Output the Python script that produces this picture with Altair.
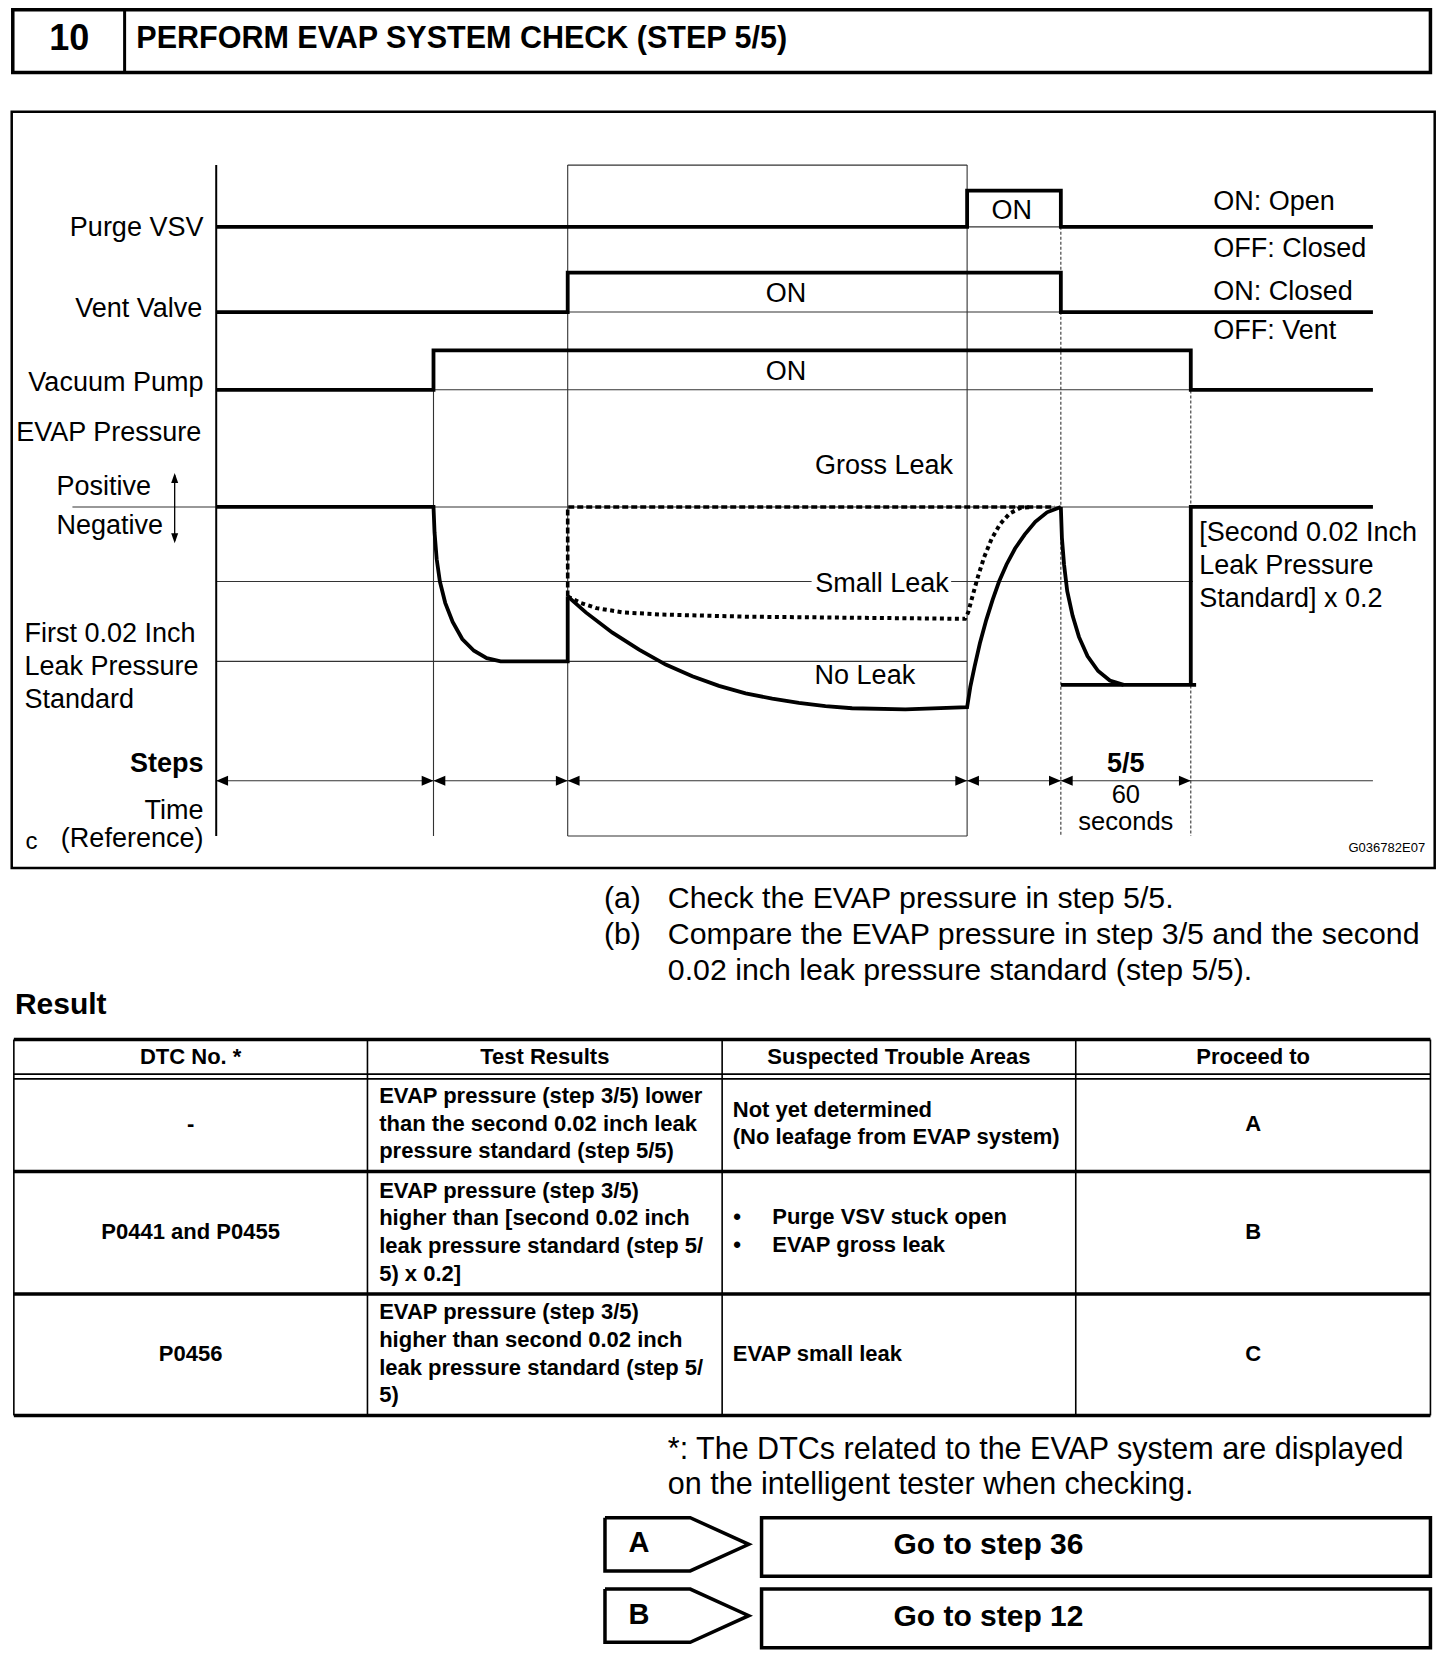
import altair as alt
import pandas as pd

FONT = "Liberation Sans, Arial, Helvetica, sans-serif"
KX = 1456 / 1367
KY = 1670 / 1568
XD = [8 / KX, 1448 / KX]
YD = [8 / KY, 1662 / KY]

# ---------------- timing diagram data (diagram units) ----------------
event_x = [203, 407, 533, 908, 996, 1118, 1289]   # axis, pump on, vent on, purge on, purge off / vent off, pump off, end
signal_names = ["Purge VSV", "Vent Valve", "Vacuum Pump"]
signal_off = [213, 293, 366]
signal_on = [179, 256, 329]
signal_start = [908, 533, 407]
signal_stop = [996, 996, 1118]
signal_on_label_x = [950, 738, 738]

p_zero, p_second, p_first, p_step5 = 476, 546, 621, 643

pump_down_x = [407, 408, 410, 413, 418, 425, 434, 445, 457, 470, 533]
pump_down_y = [476, 500, 525, 546, 566, 584, 600, 611, 618, 621, 621]
no_leak_x = [533, 550, 575, 600, 625, 650, 675, 700, 725, 750, 775, 800, 850, 908]
no_leak_y = [560, 575, 594, 610, 624, 635, 644, 651, 656, 660, 663, 665, 666, 664]
rise_x = [908, 911, 915, 920, 926, 932, 938, 945, 953, 962, 972, 983, 996]
rise_y = [664, 645, 626, 604, 582, 563, 546, 530, 515, 502, 490, 481, 476]
step5_x = [996, 997, 999, 1002, 1007, 1013, 1021, 1031, 1042, 1055]
step5_y = [476, 505, 530, 555, 578, 598, 616, 630, 639, 643]
small_leak_x = [533, 545, 560, 585, 620, 700, 800, 906, 909, 913, 918, 924, 931, 939, 948, 958, 968]
small_leak_y = [560, 566, 571, 575, 577, 579, 580, 581, 575, 560, 542, 523, 506, 492, 482, 477, 476]

step_arrow_y = 733

# ---------------- helpers ----------------
XS = alt.Scale(domain=XD, nice=False, zero=False)
YS = alt.Scale(domain=YD, nice=False, zero=False, reverse=True)


def ex(f="x"):
    return alt.X(f"{f}:Q", scale=XS, axis=None)


def ey(f="y"):
    return alt.Y(f"{f}:Q", scale=YS, axis=None)


def rules(segs, width=1.0, color="black", dash=None):
    df = pd.DataFrame(segs, columns=["x", "y", "x2", "y2"])
    kw = dict(color=color, strokeWidth=width, strokeCap="butt")
    if dash:
        kw["strokeDash"] = dash
    return alt.Chart(df).mark_rule(**kw).encode(x=ex("x"), y=ey("y"), x2="x2:Q", y2="y2:Q")


def poly(paths, width=3.5, color="black", dash=None):
    rows = []
    for pid, (xs, ys) in enumerate(paths):
        for i, (a, b) in enumerate(zip(xs, ys)):
            rows.append({"id": pid, "i": i, "x": a, "y": b})
    kw = dict(color=color, strokeWidth=width, strokeJoin="miter", strokeCap="butt")
    if dash:
        kw["strokeDash"] = dash
    return alt.Chart(pd.DataFrame(rows)).mark_line(**kw).encode(
        x=ex(), y=ey(), order="i:Q", detail="id:N")


def txt(items, size, weight="normal", align="left", color="black"):
    df = pd.DataFrame(items, columns=["x", "y", "t"])
    return alt.Chart(df).mark_text(align=align, baseline="middle", fontSize=size,
                                   fontWeight=weight, font=FONT, color=color).encode(
        x=ex(), y=ey(), text="t:N")


def boxes(items, width=3):
    df = pd.DataFrame(items, columns=["x", "y", "x2", "y2"])
    return alt.Chart(df).mark_rect(fillOpacity=0, stroke="black", strokeWidth=width).encode(
        x=ex("x"), y=ey("y"), x2="x2:Q", y2="y2:Q")


def heads(items, path, size):
    df = pd.DataFrame(items, columns=["x", "y"])
    return alt.Chart(df).mark_point(shape=path, filled=True, size=size, color="black",
                                    opacity=1, strokeWidth=0).encode(x=ex(), y=ey())


layers = []

# ---------------- header ----------------
layers.append(boxes([(12, 9.2, 1343, 68)], width=3.5))
layers.append(rules([(117, 9.2, 117, 68)], width=3))
layers.append(txt([(65, 37, "10")], 36, "bold", "center"))
layers.append(txt([(128, 37, "PERFORM EVAP SYSTEM CHECK (STEP 5/5)")], 30.5, "bold"))

# ---------------- diagram frame ----------------
layers.append(boxes([(11, 105, 1347, 815)], width=2.5))

ax, t_pump, t_vent, t_on, t_off, t_pstop, t_end = event_x
# thin guide lines
thin_h = [
    (t_on, signal_off[0], t_off, signal_off[0]),
    (t_vent, signal_off[1], t_off, signal_off[1]),
    (t_pump, signal_off[2], t_pstop, signal_off[2]),
    (68, p_zero, t_end, p_zero),
    (ax, p_second, 762, p_second),
    (893, p_second, 1120, p_second),
    (ax, p_first, t_on, p_first),
    (ax, step_arrow_y, t_end, step_arrow_y),
    (t_vent, 155, t_on, 155),
    (t_vent, 785, t_on, 785),
]
thin_v = [
    (t_pump, signal_on[2], t_pump, 785),
    (t_vent, 155, t_vent, 785),
    (t_on, 155, t_on, 785),
]
layers.append(rules(thin_h, width=1.1, color="#333"))
layers.append(rules(thin_v, width=1.1, color="#333"))
layers.append(rules([(t_off, signal_off[0], t_off, 785), (t_pstop, signal_on[2], t_pstop, 785)],
                    width=1.1, color="#333", dash=[3, 2]))
layers.append(rules([(ax, 155, ax, 785)], width=2))

# signal traces
sig_paths = []
for lo, hi, s, e in zip(signal_off, signal_on, signal_start, signal_stop):
    sig_paths.append(([ax, s, s, e, e, t_end], [lo, lo, hi, hi, lo, lo]))
layers.append(poly(sig_paths, width=3.8))

# pressure traces
pressure_solid = [
    ([ax] + pump_down_x + [t_vent], [p_zero] + pump_down_y + [no_leak_y[0]]),
    (no_leak_x + rise_x, no_leak_y + rise_y),
    (step5_x, step5_y),
    ([t_off, 1123], [p_step5, p_step5]),
    ([t_pstop, t_pstop, t_end], [p_step5, p_zero, p_zero]),
]
layers.append(poly(pressure_solid, width=3.8))
layers.append(poly([([t_vent, t_vent, 990], [no_leak_y[0], p_zero, p_zero])], width=3.6, dash=[6, 3]))
layers.append(poly([(small_leak_x, small_leak_y)], width=4, dash=[4, 3.5]))

# steps arrows
right_tips = [(x, step_arrow_y) for x in [t_pump, t_vent, t_on, t_off, t_pstop]]
left_tips = [(x, step_arrow_y) for x in [ax, t_pump, t_vent, t_on, t_off]]
layers.append(heads(right_tips, "M 0 0 L -1 -0.42 L -1 0.42 Z", 560))
layers.append(heads(left_tips, "M 0 0 L 1 -0.42 L 1 0.42 Z", 560))

# positive / negative arrow
layers.append(rules([(164, 446, 164, 508)], width=1.3))
layers.append(heads([(164, 444)], "M 0 0 L -0.35 1 L 0.35 1 Z", 400))
layers.append(heads([(164, 510)], "M 0 0 L -0.35 -1 L 0.35 -1 Z", 400))

# diagram labels
layers.append(txt([(191, 214, "Purge VSV"), (190, 290, "Vent Valve"), (191, 360, "Vacuum Pump"),
                   (189, 407, "EVAP Pressure"), (191, 761, "Time"), (191, 788, "(Reference)")],
                  27, align="right"))
layers.append(txt([(53, 457, "Positive"), (53, 494, "Negative"),
                   (23, 595, "First 0.02 Inch"), (23, 626, "Leak Pressure"), (23, 657, "Standard"),
                   (1139, 190, "ON: Open"), (1139, 234, "OFF: Closed"),
                   (1139, 274, "ON: Closed"), (1139, 311, "OFF: Vent"),
                   (1126, 500, "[Second 0.02 Inch"), (1126, 531, "Leak Pressure"),
                   (1126, 562, "Standard] x 0.2")], 27))
layers.append(txt([(24, 791, "c")], 24))
layers.append(txt([(191, 717, "Steps")], 27, "bold", "right"))
layers.append(txt([(1057, 717, "5/5")], 27, "bold", "center"))
on_items = [(lx, (hi + lo) / 2 + 2, "ON") for lx, hi, lo in zip(signal_on_label_x, signal_on, signal_off)]
layers.append(txt(on_items + [(830, 438, "Gross Leak"), (828, 548, "Small Leak"), (812, 635, "No Leak")],
                  27, align="center"))
layers.append(txt([(1057, 746, "60"), (1057, 772, "seconds")], 25.5, align="center"))
layers.append(txt([(1338, 796, "G036782E07")], 13, align="right"))

# ---------------- instructions ----------------
layers.append(txt([(567, 844, "(a)"), (627, 844, "Check the EVAP pressure in step 5/5."),
                   (567, 878, "(b)"), (627, 878, "Compare the EVAP pressure in step 3/5 and the second"),
                   (627, 912, "0.02 inch leak pressure standard (step 5/5).")], 30.3))
layers.append(txt([(627, 1361, "*: The DTCs related to the EVAP system are displayed"),
                   (627, 1394, "on the intelligent tester when checking.")], 30.5))
layers.append(txt([(14, 944, "Result")], 30, "bold"))

# ---------------- result table ----------------
col_x = [13, 345, 678, 1010, 1343]
row_y = [976, 1013, 1100, 1215, 1329]
layers.append(rules([(c, row_y[0], c, row_y[-1]) for c in col_x], width=1.6))
layers.append(rules([(col_x[0], y, col_x[-1], y) for y in [row_y[0], row_y[2], row_y[3], row_y[4]]], width=3.5))
layers.append(rules([(col_x[0], 1008.5, col_x[-1], 1008.5), (col_x[0], row_y[1], col_x[-1], row_y[1])], width=1.6))

headers = ["DTC No. *", "Test Results", "Suspected Trouble Areas", "Proceed to"]
col_centers = [(a + b) / 2 for a, b in zip(col_x[:-1], col_x[1:])]
layers.append(txt([(c, 992, h) for c, h in zip(col_centers, headers)], 22, "bold", "center"))

dtc = ["-", "P0441 and P0455", "P0456"]
proceed = ["A", "B", "C"]
row_mid = [1055, 1157, 1271]
layers.append(txt([(col_centers[0], y, d) for y, d in zip(row_mid, dtc)] +
                  [(col_centers[3], y, p) for y, p in zip(row_mid, proceed)], 22, "bold", "center"))
test_results = [
    ["EVAP pressure (step 3/5) lower", "than the second 0.02 inch leak", "pressure standard (step 5/5)"],
    ["EVAP pressure (step 3/5)", "higher than [second 0.02 inch", "leak pressure standard (step 5/", "5) x 0.2]"],
    ["EVAP pressure (step 3/5)", "higher than second 0.02 inch", "leak pressure standard (step 5/", "5)"],
]
line_h = 26
tr_items = []
for y, lines in zip(row_mid, test_results):
    y0 = y - line_h * (len(lines) - 1) / 2
    for k, ln in enumerate(lines):
        tr_items.append((356, y0 + k * line_h, ln))
areas_items = [(688, 1042, "Not yet determined"), (688, 1068, "(No leafage from EVAP system)"),
               (725, 1143, "Purge VSV stuck open"), (725, 1169, "EVAP gross leak"),
               (688, 1271, "EVAP small leak")]
layers.append(txt(tr_items + areas_items, 22, "bold"))
layers.append(txt([(692, 1143, "•"), (692, 1169, "•")], 22, "bold", "center"))

# ---------------- go-to boxes ----------------
choices = ["A", "B"]
targets = ["Go to step 36", "Go to step 12"]
box_top = [1425, 1492]
tag_paths = []
for t in box_top:
    tag_paths.append(([568, 648, 703, 648, 568, 568], [t, t, t + 25, t + 50, t + 50, t]))
layers.append(poly(tag_paths, width=3.5))
layers.append(boxes([(715, t, 1343, t + 55) for t in box_top], width=3.5))
layers.append(txt([(590, t + 24, c) for t, c in zip(box_top, choices)], 29, "bold"))
layers.append(txt([(928, t + 26, g) for t, g in zip(box_top, targets)], 30, "bold", "center"))

chart = alt.layer(*layers).properties(
    width=1440, height=1654, padding=0, autosize="none", background="white"
).configure_view(stroke=None)

chart.save("out.html", embed_options={"renderer": "svg", "actions": False})
